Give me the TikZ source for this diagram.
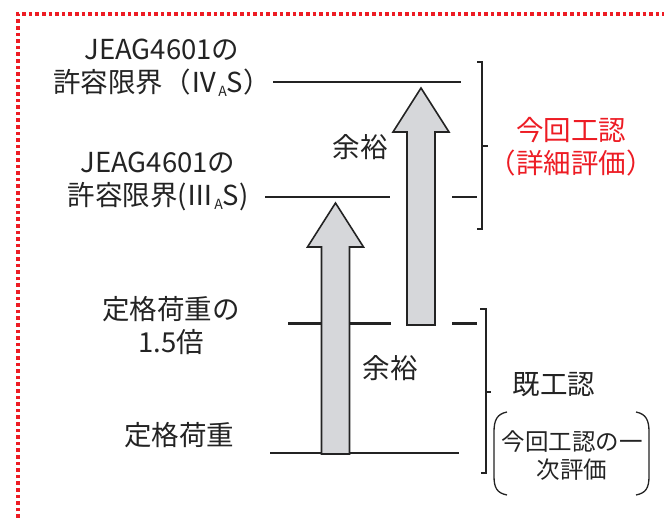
\documentclass[tikz,border=0pt]{standalone}
\usepackage{fontspec}
\setmainfont{Noto Sans CJK JP}
\usepackage{xcolor}
\usetikzlibrary{calc}
\definecolor{kohnred}{RGB}{237,28,36}
\definecolor{arrowgray}{RGB}{214,215,218}
\definecolor{inkgray}{RGB}{35,35,35}
\newcommand{\subA}{\raisebox{-4pt}{\fontsize{14}{14}\selectfont A}}

\begin{document}
\begin{tikzpicture}[x=1pt,y=-1pt,
  lbl/.style={align=center,text=inkgray,inner sep=0pt,font=\fontsize{27.5}{33}\selectfont},
  small/.style={lbl,font=\fontsize{23.5}{28}\selectfont},
  level/.style={draw=inkgray,line width=1.6pt},
  uparrow/.style={draw=inkgray,fill=arrowgray,line width=1.6pt,line join=miter},
  brace/.style={draw=inkgray,line width=1.3pt}]
\useasboundingbox (0,0) rectangle (664,518);
% red dotted frame
\draw[kohnred,line width=3.6pt,dash pattern=on 3.6pt off 3pt] (18,518) -- (18,14) -- (664,14);

% level lines
\coordinate (ivL) at (273,82);   \coordinate (ivR) at (461,82);
\coordinate (iiiL) at (265,197); \coordinate (iiiR) at (390,197);
\coordinate (iiiS) at (452,197); \coordinate (iiiE) at (477,197);
\coordinate (hlfL) at (288,324); \coordinate (hlfR) at (391,324);
\coordinate (hlfS) at (452,324); \coordinate (hlfE) at (477,324);
\coordinate (ratL) at (270,453); \coordinate (ratR) at (459,453);
\draw[level,line width=2pt] (ivL) -- (ivR);
\draw[level,line width=1.4pt] (iiiL) -- (iiiR) (iiiS) -- (iiiE);
\draw[level,line width=3pt] (hlfL) -- (hlfR) (hlfS) -- (hlfE);
\draw[level,line width=1.4pt] (ratL) -- (ratR);

% margin arrows
\foreach \cx/\yb/\yt in {335.5/454/203, 421/325/88}
  \draw[uparrow] (\cx-14,\yb) -- (\cx-14,\yt+44) -- (\cx-28,\yt+44) -- (\cx,\yt)
    -- (\cx+28,\yt+44) -- (\cx+14,\yt+44) -- (\cx+14,\yb) -- cycle;

% labels
\node[lbl] (jeagiv) at (162,68) {JEAG4601の\\許容限界（Ⅳ\subA S）};
\node[lbl] (jeagiii) at (158,181) {JEAG4601の\\許容限界(Ⅲ\subA S)};
\node[lbl] (rated15) at (171,326) {定格荷重の\\1.5倍};
\node[lbl] (rated) at (179,435) {定格荷重};
\node[lbl] (marginup) at (360,147) {余裕};
\node[lbl] (marginlo) at (390,368) {余裕};
\node[lbl,text=kohnred] (newrev) at (571,147) {今回工認\\（詳細評価）};
\node[lbl] (oldrev) at (554,385) {既工認};
\node[small] (firsteval) at (572,456) {今回工認の一\\次評価};

% brackets
\draw[brace] (477,62) -- (482,62) -- (482,229) -- (477,229) (482,146) -- (488,146);
\draw[brace] (480,309) -- (486,309) -- (486,473) -- (481,473) (486,392) -- (491,392);
\draw[brace] (507,412) .. controls (497,414) and (494,420) .. (494,432) -- (494,476)
  .. controls (494,488) and (497,493) .. (507,495);
\draw[brace] (636,412) .. controls (646,414) and (649,420) .. (649,432) -- (649,476)
  .. controls (649,488) and (646,493) .. (636,495);
\end{tikzpicture}
\end{document}
